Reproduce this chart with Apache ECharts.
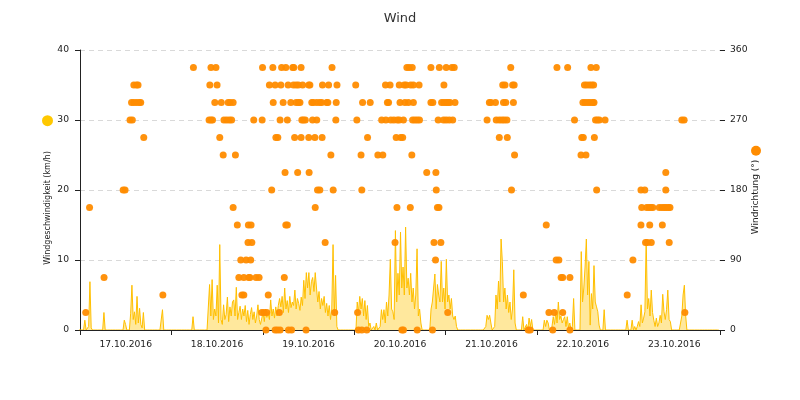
<!DOCTYPE html>
<html>
<head>
<meta charset="utf-8">
<script src="https://cdn.jsdelivr.net/npm/echarts@6/dist/echarts.min.js"></script>
<style>
html,body{margin:0;padding:0;background:#fff;}
#chart{width:800px;height:400px;}
</style>
</head>
<body>
<div id="chart"></div>
<script>
// Hours are counted from 17.10.2016 00:00
var dayLabels = ['17.10.2016','18.10.2016','19.10.2016','20.10.2016','21.10.2016','22.10.2016','23.10.2016'];

// Wind speed (km/h), one value every 20 minutes, 72 values per day
var speed17 = [0,0,0,0,0,1.4,0,0,0.5,6.9,0.3,0,
  0,0,0,0,0,0,0,0,2.5,0,0,0,
  0,0,0,0,0,0,0,0,0,0,0,0,
  1.4,0.8,0,0,0,2.4,6.4,1.5,2.6,0.8,4.8,1.0,
  3.1,0.8,0.3,2.5,0,0,0,0,0,0,0,0,
  0,0,0,0,0,0,2.9,0,0,0,0,0];
var speed18 = [0,0,0,0,0,0,0,0,0,0,0,0,
  0,0,0,0,0,0,1.9,0,0,0,0,0,
  0,0,0,0,0,0,0,6.5,2.0,7.2,1.5,3.0,
  2.0,6.4,1.0,12.2,1.5,0.8,3.6,1.5,2.2,4.7,1.2,3.3,
  2.0,4.0,4.3,2.0,6.1,1.5,2.5,3.4,1.5,3.0,2.0,3.5,
  1.2,2.8,0.8,2.2,3.2,1.5,2.6,1.0,2.0,3.6,1.5,0.8];
var speed19 = [1.0,2.5,1.2,3.0,1.8,2.6,1.5,4.3,2.0,3.0,1.7,3.3,
  2.0,3.5,4.5,3.3,4.8,2.5,6.0,3.0,4.2,2.5,4.8,3.2,
  4.0,3.5,5.7,3.0,4.5,3.8,2.8,4.7,3.5,7.1,4.5,8.2,
  6.0,8.2,5.0,6.9,7.5,5.5,8.2,6.0,4.0,5.5,3.0,4.5,
  3.5,4.8,2.5,3.8,2.0,3.5,1.5,3.0,12.2,2.0,7.8,0.5,
  0,0,0,0,0,0,0,0,0,0,0,0];
var speed20 = [0,0,0,4.0,2.5,4.8,3.0,4.5,2.0,4.2,1.5,3.5,
  0.5,1.0,0,0,0.5,0,1.0,0,0,0.5,2.9,1.5,
  2.9,1.0,4.0,2.0,5.0,10.1,3.0,2.6,1.5,14.2,4.0,8.1,
  5.0,14.0,6.0,9.0,5.0,14.7,6.0,7.4,5.0,8.1,4.0,6.0,
  3.0,5.0,11.6,2.0,3.0,1.0,0,0,0,0,0,0,
  0,3.0,4.0,6.0,8.0,3.0,6.5,5.0,4.0,9.8,4.0,6.0];
var speed21 = [3.0,10.1,4.0,5.0,3.0,4.5,2.0,1.5,2.0,0.5,0,0,
  0,0,0,0,0,0,0,0,0,0,0,0,
  0,0,0,0,0,0,0,0,0.5,2.1,1.5,2.1,
  1.0,0,0,0.5,5.0,3.0,7.0,4.0,13.0,9.8,4.0,6.0,
  3.0,5.0,2.5,4.0,1.5,3.0,8.6,1.0,0,0,0,0,
  0,1.9,0,0,0.8,0,1.7,0.5,1.5,0,0,0];
var speed22 = [0,0,0,0,0,0,1.4,0.5,1.4,1.0,0,0,
  0.5,1.9,0.8,2.6,1.0,4.0,1.5,2.0,1.0,1.5,1.9,0.5,
  1.9,0.3,1.0,0,0.5,4.5,0,0,0,0,0,11.2,
  4.0,6.0,9.0,13.0,5.0,9.8,0.7,5.2,3.0,9.2,4.0,3.3,
  2.6,0.7,0,0,0,2.9,0,0,0,0,0,0,
  0,0,0,0,0,0,0,0,0,0,0,1.4];
var speed23 = [0,0,0,1.4,0,0.5,0,0.5,1.2,0.5,3.6,1.0,
  1.7,2.6,13.0,3.0,4.5,2.0,5.7,2.5,1.4,0.5,1.7,0.5,
  1.0,2.1,1.0,5.1,2.6,1.5,2.9,5.7,1.5,1.2,0,0,
  0,0,0,0,0,0,2.0,5.0,6.4,2.1,0,0,
  0,0,0,0,0,0,0,0,0,0,0,0,
  0,0,0,0,0,0,0,0,0,0,0,0];

// Wind direction (deg): hours at which each direction was recorded
var dir3375 = [30.1,34.7,36.0,48.2,50.9,53.2,54.3,56.1,56.4,58.3,66.4,86.0,86.6,87.4,92.3,94.5,96.3,97.8,98.4,113.2,125.3,128.1,134.2,135.6];
var dir315 = [14.5,15.2,15.6,34.4,36.3,50.0,51.5,53.0,54.9,56.3,57.0,57.6,58.7,60.3,60.6,63.9,65.5,67.7,72.6,80.4,81.6,84.0,85.3,85.8,87.0,87.7,89.2,95.7,111.1,111.7,113.7,114.1,132.5,133.1,133.8,134.4,134.9];
var dir2925 = [13.9,14.5,15.2,15.9,16.3,35.7,37.4,39.2,39.7,40.5,51.0,53.6,55.6,57.0,57.6,58.0,61.1,61.5,62.4,63.2,63.7,65.0,65.3,67.5,74.4,76.4,80.9,81.2,84.2,85.5,86.4,87.7,92.3,92.8,95.1,95.7,96.3,96.8,97.3,98.6,107.6,108.0,109.2,111.3,111.9,113.9,132.1,132.7,133.4,134.0,134.7,135.0];
var dir270 = [13.5,14.1,34.2,34.7,35.1,38.1,38.8,39.5,40.1,45.9,48.1,52.8,54.7,58.5,58.9,59.4,61.3,62.4,67.4,72.9,79.4,80.5,81.8,82.6,83.5,84.0,85.1,87.5,88.1,88.7,89.3,94.2,95.6,96.3,97.1,98.0,107.0,109.4,110.2,110.9,111.5,112.2,129.9,135.4,135.9,136.4,137.9,158.0,158.6];
var dir2475 = [17.1,37.0,51.7,52.2,56.6,58.3,60.3,61.9,63.8,75.7,83.2,84.4,84.9,110.2,112.3,131.8,132.2,135.1];
var dir225 = [37.9,41.1,66.1,74.0,78.4,79.7,87.3,114.2,131.6,132.9];
var dir2025 = [54.1,57.4,60.4,91.2,93.6,153.8];
var dir180 = [11.7,12.2,50.6,62.6,63.2,66.7,74.2,93.7,113.4,135.7,147.3,148.3,153.8];
var dir1575 = [2.9,40.5,62.0,83.4,86.9,94.0,94.4,147.5,148.8,149.4,149.9,150.4,152.1,152.8,153.4,153.9,154.5,154.9];
var dir135 = [41.6,44.5,45.2,54.3,54.7,122.5,147.3,149.6,152.9];
var dir1125 = [44.4,45.4,64.6,82.9,93.1,94.9,148.5,149.0,150.0,154.7];
var dir90 = [42.5,43.9,45.1,93.5,125.1,125.8,145.2];
var dir675 = [6.7,42.0,43.3,44.6,44.9,46.5,47.3,53.9,126.4,126.8,128.7];
var dir45 = [22.1,42.8,43.3,49.7,116.5,143.7];
var dir225b = [1.9,48.0,48.6,49.3,52.6,67.1,73.1,96.7,123.2,124.6,126.8,158.8];
var dir0 = [49.1,51.5,52.1,52.8,55.0,55.8,59.6,73.3,74.2,75.5,84.7,85.1,88.7,92.7,117.8,118.3,124.2,128.7];

var speedDays = [speed17,speed18,speed19,speed20,speed21,speed22,speed23];
var speedData = [];
speedDays.forEach(function(arr, d){
  arr.forEach(function(v, i){ speedData.push([24*d + i/3, v]); });
});
var dirLevels = [[337.5,dir3375],[315,dir315],[292.5,dir2925],[270,dir270],[247.5,dir2475],[225,dir225],
  [202.5,dir2025],[180,dir180],[157.5,dir1575],[135,dir135],[112.5,dir1125],[90,dir90],[67.5,dir675],
  [45,dir45],[22.5,dir225b],[0,dir0]];
var dirData = [];
dirLevels.forEach(function(l){ l[1].forEach(function(h){ dirData.push([h, l[0]]); }); });

var FONT = 'DejaVu Sans';
var chart = echarts.init(document.getElementById('chart'), null, {renderer:'canvas'});
chart.setOption({
  animation: false,
  backgroundColor: '#fff',
  textStyle: {fontFamily: FONT},
  title: {text: 'Wind', left: 'center', top: 7,
    textStyle: {fontFamily: FONT, fontSize: 13, fontWeight: 'normal', color: '#333'}},
  grid: {left: 80, right: 80, top: 50, bottom: 70},
  xAxis: [
    {type: 'value', min: 0.4, max: 168, z: 3,
     axisLine: {show: true, lineStyle: {color: '#222', width: 1}},
     axisTick: {show: false}, axisLabel: {show: false}, splitLine: {show: false}},
    {type: 'category', data: dayLabels, boundaryGap: true, position: 'bottom', z: 3,
     axisLine: {show: false},
     axisTick: {show: true, interval: 0, length: 5, lineStyle: {color: '#222'}},
     axisLabel: {interval: 0, margin: 10, fontFamily: FONT, fontSize: 9.2, color: '#222'},
     splitLine: {show: false}}
  ],
  yAxis: [
    {type: 'value', min: 0, max: 40, interval: 10, position: 'left',
     name: '{t|Windgeschwindigkeit (km/h)}{s|}{d|}', nameLocation: 'middle', nameRotate: 90, nameGap: 27,
     nameMoveOverlap: false,
     nameTextStyle: {fontFamily: FONT, fontSize: 8, color: '#222',
       rich: {t: {fontFamily: FONT, fontSize: 8, color: '#222'}, s: {width: 25},
              d: {width: 11, height: 11, borderRadius: 6, backgroundColor: '#FFC800'}}},
     axisLine: {show: true, lineStyle: {color: '#222', width: 1}},
     axisTick: {show: true, length: 5, lineStyle: {color: '#222'}},
     axisLabel: {margin: 11, fontFamily: FONT, fontSize: 9.2, color: '#222'},
     splitLine: {show: true, lineStyle: {color: '#d9d9d9', type: [5, 4], width: 1}}},
    {type: 'value', min: 0, max: 360, interval: 90, position: 'right',
     name: '{t|Windrichtung (°)}{s|}{d|}', nameLocation: 'middle', nameRotate: 90, nameGap: 31,
     nameMoveOverlap: false,
     nameTextStyle: {fontFamily: FONT, fontSize: 9, color: '#222',
       rich: {t: {fontFamily: FONT, fontSize: 9, color: '#222'}, s: {width: 4},
              d: {width: 10, height: 10, borderRadius: 5, backgroundColor: '#FF8C00'}}},
     axisLine: {show: false},
     axisTick: {show: true, length: 5, lineStyle: {color: '#222'}},
     axisLabel: {margin: 10, fontFamily: FONT, fontSize: 9.2, color: '#222'},
     splitLine: {show: false}}
  ],
  series: [
    {name: 'Windgeschwindigkeit', type: 'line', xAxisIndex: 0, yAxisIndex: 0, data: speedData,
     showSymbol: false, z: 2,
     lineStyle: {color: '#FFBF00', width: 1},
     itemStyle: {color: '#FFBF00'},
     areaStyle: {color: 'rgba(255,196,0,0.55)', origin: 'start'}},
    {name: 'Windrichtung', type: 'scatter', xAxisIndex: 0, yAxisIndex: 1, data: dirData,
     symbolSize: 7, z: 4,
     itemStyle: {color: '#FF8C00', opacity: 0.95}}
  ]
});
</script>
</body>
</html>
